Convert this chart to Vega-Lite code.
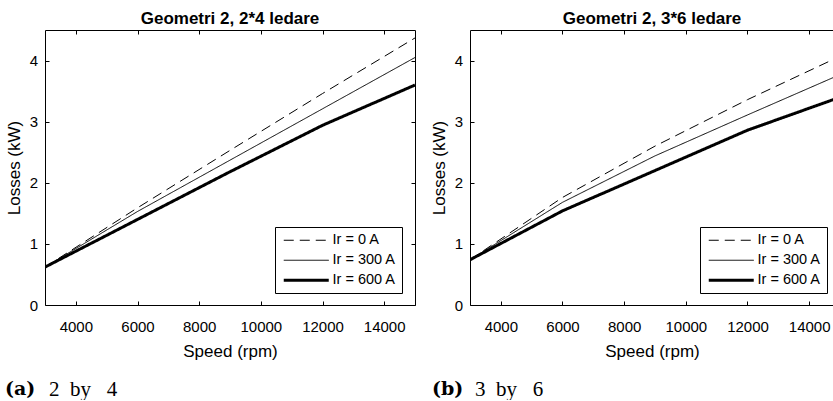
{
  "$schema": "https://vega.github.io/schema/vega-lite/v6.json",
  "background": "white",
  "padding": {"left": 5, "top": 9, "right": 0, "bottom": 0},
  "spacing": 14,
  "resolve": {
    "scale": {"strokeDash": "independent"},
    "legend": {"strokeDash": "independent"}
  },
  "datasets": {
    "a": [
      {"speed": 3000, "loss": 0.62, "series": "Ir = 0 A"},
      {"speed": 6000, "loss": 1.59, "series": "Ir = 0 A"},
      {"speed": 9000, "loss": 2.53, "series": "Ir = 0 A"},
      {"speed": 12000, "loss": 3.46, "series": "Ir = 0 A"},
      {"speed": 15000, "loss": 4.37, "series": "Ir = 0 A"},
      {"speed": 3000, "loss": 0.62, "series": "Ir = 300 A"},
      {"speed": 6000, "loss": 1.53, "series": "Ir = 300 A"},
      {"speed": 9000, "loss": 2.37, "series": "Ir = 300 A"},
      {"speed": 12000, "loss": 3.21, "series": "Ir = 300 A"},
      {"speed": 15000, "loss": 4.05, "series": "Ir = 300 A"},
      {"speed": 3000, "loss": 0.62, "series": "Ir = 600 A"},
      {"speed": 6000, "loss": 1.40, "series": "Ir = 600 A"},
      {"speed": 9000, "loss": 2.18, "series": "Ir = 600 A"},
      {"speed": 12000, "loss": 2.94, "series": "Ir = 600 A"},
      {"speed": 15000, "loss": 3.60, "series": "Ir = 600 A"}
    ],
    "b": [
      {"speed": 3000, "loss": 0.74, "series": "Ir = 0 A"},
      {"speed": 6000, "loss": 1.76, "series": "Ir = 0 A"},
      {"speed": 9000, "loss": 2.60, "series": "Ir = 0 A"},
      {"speed": 12000, "loss": 3.36, "series": "Ir = 0 A"},
      {"speed": 15000, "loss": 4.07, "series": "Ir = 0 A"},
      {"speed": 3000, "loss": 0.74, "series": "Ir = 300 A"},
      {"speed": 6000, "loss": 1.68, "series": "Ir = 300 A"},
      {"speed": 9000, "loss": 2.44, "series": "Ir = 300 A"},
      {"speed": 12000, "loss": 3.11, "series": "Ir = 300 A"},
      {"speed": 15000, "loss": 3.77, "series": "Ir = 300 A"},
      {"speed": 3000, "loss": 0.74, "series": "Ir = 600 A"},
      {"speed": 6000, "loss": 1.54, "series": "Ir = 600 A"},
      {"speed": 9000, "loss": 2.20, "series": "Ir = 600 A"},
      {"speed": 12000, "loss": 2.86, "series": "Ir = 600 A"},
      {"speed": 15000, "loss": 3.40, "series": "Ir = 600 A"}
    ]
  },
  "config": {
    "font": "Liberation Sans",
    "view": {"stroke": null},
    "axis": {
      "domainColor": "black", "domainWidth": 1,
      "tickColor": "black", "tickWidth": 1, "tickSize": -4,
      "labelColor": "black", "labelFont": "Liberation Sans", "labelFontSize": 15, "labelFlush": false,
      "titleFont": "Liberation Sans", "titleFontSize": 17, "titleFontWeight": "normal", "titleColor": "black",
      "grid": false
    },
    "legend": {
      "labelFont": "Liberation Sans", "labelFontSize": 14.5, "labelColor": "black",
      "strokeColor": "black", "fillColor": "white", "padding": 6, "cornerRadius": 0,
      "symbolType": "M-1,0H9", "symbolSize": 81, "symbolStrokeColor": "black", "symbolFillColor": "transparent",
      "labelOffset": 37, "rowPadding": 5
    },
    "title": {"color": "black"}
  },
  "hconcat": [
    {
      "title": {"text": "2\u2002by\u2002 4", "orient": "bottom", "anchor": "start", "frame": "group", "font": "Liberation Serif", "fontSize": 21, "fontWeight": "normal", "dx": 4, "dy": -20, "offset": 0, "baseline": "top"},
      "vconcat": [{
        "title": {"text": "(a)", "orient": "bottom", "anchor": "start", "frame": "group", "font": "DejaVu Serif", "fontSize": 19, "fontWeight": "bold", "dx": -40, "offset": 21, "baseline": "top"},
        "vconcat": [{
          "title": {"text": "Geometri 2, 2*4 ledare", "font": "Liberation Sans", "fontSize": 17, "fontWeight": "bold", "anchor": "middle", "frame": "group", "offset": 2},
          "width": 370,
          "height": 275,
          "data": {"name": "a"},
          "layer": [
            {
              "mark": {"type": "line", "color": "black", "clip": true},
              "encoding": {
                "x": {"field": "speed", "type": "quantitative", "scale": {"domain": [3000, 15000], "nice": false, "zero": false},
                      "axis": {"orient": "bottom", "values": [4000, 6000, 8000, 10000, 12000, 14000], "format": "d", "labelPadding": 18, "title": "Speed (rpm)", "titlePadding": 9}},
                "y": {"field": "loss", "type": "quantitative", "scale": {"domain": [0, 4.5], "nice": false},
                      "axis": {"orient": "left", "values": [0, 1, 2, 3, 4], "format": "d", "labelPadding": 11.5, "title": "Losses (kW)", "titlePadding": 6}},
                "strokeDash": {"field": "series", "type": "nominal",
                  "scale": {"domain": ["Ir = 0 A", "Ir = 300 A", "Ir = 600 A"], "range": [[10, 6], [1, 0], [1, 0]]},
                  "legend": {"title": null, "orient": "none", "legendX": 230, "legendY": 197,
                    "symbolStrokeWidth": 1,
                    "encode": {"symbols": {"update": {"strokeWidth": {"signal": "datum.value === 'Ir = 600 A' ? 3 : 1"}}}}}},
                "strokeWidth": {"condition": {"test": "datum.series === 'Ir = 600 A'", "value": 3}, "value": 1}
              }
            },
            {
              "mark": {"type": "line", "opacity": 0},
              "encoding": {
                "x": {"field": "speed", "type": "quantitative",
                      "axis": {"orient": "top", "values": [4000, 6000, 8000, 10000, 12000, 14000], "labels": false, "title": null}},
                "y": {"field": "loss", "type": "quantitative",
                      "axis": {"orient": "right", "values": [0, 1, 2, 3, 4], "labels": false, "title": null}}
              }
            }
          ],
          "resolve": {"axis": {"x": "independent", "y": "independent"}}
        }]
      }]
    },
    {
      "title": {"text": "3\u2002by\u2002 6", "orient": "bottom", "anchor": "start", "frame": "group", "font": "Liberation Serif", "fontSize": 21, "fontWeight": "normal", "dx": 5, "dy": -20, "offset": 0, "baseline": "top"},
      "vconcat": [{
        "title": {"text": "(b)", "orient": "bottom", "anchor": "start", "frame": "group", "font": "DejaVu Serif", "fontSize": 19, "fontWeight": "bold", "dx": -38, "offset": 21, "baseline": "top"},
        "vconcat": [{
          "title": {"text": "Geometri 2, 3*6 ledare", "font": "Liberation Sans", "fontSize": 17, "fontWeight": "bold", "anchor": "middle", "frame": "group", "offset": 2},
          "width": 364,
          "height": 275,
          "data": {"name": "b"},
          "layer": [
            {
              "mark": {"type": "line", "color": "black", "clip": true},
              "encoding": {
                "x": {"field": "speed", "type": "quantitative", "scale": {"domain": [3000, 14806], "nice": false, "zero": false},
                      "axis": {"orient": "bottom", "values": [4000, 6000, 8000, 10000, 12000, 14000], "format": "d", "labelPadding": 18, "title": "Speed (rpm)", "titlePadding": 9}},
                "y": {"field": "loss", "type": "quantitative", "scale": {"domain": [0, 4.5], "nice": false},
                      "axis": {"orient": "left", "values": [0, 1, 2, 3, 4], "format": "d", "labelPadding": 11.5, "title": "Losses (kW)", "titlePadding": 6}},
                "strokeDash": {"field": "series", "type": "nominal",
                  "scale": {"domain": ["Ir = 0 A", "Ir = 300 A", "Ir = 600 A"], "range": [[10, 6], [1, 0], [1, 0]]},
                  "legend": {"title": null, "orient": "none", "legendX": 230, "legendY": 197,
                    "symbolStrokeWidth": 1,
                    "encode": {"symbols": {"update": {"strokeWidth": {"signal": "datum.value === 'Ir = 600 A' ? 3 : 1"}}}}}},
                "strokeWidth": {"condition": {"test": "datum.series === 'Ir = 600 A'", "value": 3}, "value": 1}
              }
            },
            {
              "mark": {"type": "line", "opacity": 0, "clip": true},
              "encoding": {
                "x": {"field": "speed", "type": "quantitative",
                      "axis": {"orient": "top", "values": [4000, 6000, 8000, 10000, 12000, 14000], "labels": false, "title": null}},
                "y": {"field": "loss", "type": "quantitative", "axis": null}
              }
            }
          ],
          "resolve": {"axis": {"x": "independent", "y": "independent"}}
        }]
      }]
    }
  ]
}
